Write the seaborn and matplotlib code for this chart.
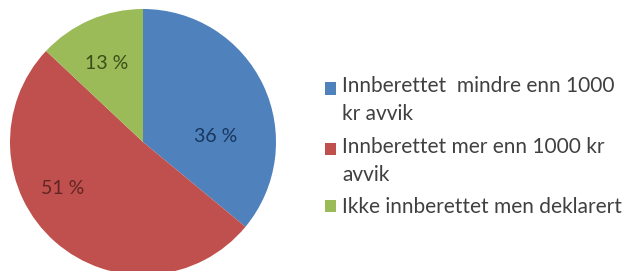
import matplotlib
matplotlib.use("Agg")
import matplotlib.pyplot as plt
import numpy as np
import seaborn as sns
from matplotlib.patches import Rectangle
from matplotlib.legend_handler import HandlerPatch

# data
labels = ["Innberettet  mindre enn 1000\nkr avvik",
          "Innberettet mer enn 1000 kr\navvik",
          "Ikke innberettet men deklarert"]
shares = [36, 51, 13]
colors = ["#4F81BD", "#C0504D", "#9BBB59"]
text_colors = ["#17375E", "#632523", "#3B4E1A"]
# where the percent labels sit (angle in degrees, fraction of radius)
label_angle = [4, 210, 115]
label_dist = [0.55, 0.70, 0.65]

sns.set_theme(style="white")
plt.rcParams['font.family'] = ['Lato', 'DejaVu Sans']

fig = plt.figure(figsize=(6.38, 2.71), dpi=100)
ax = fig.add_axes([10/638, -4/271, 266/638, 266/271])

wedges, texts, autotexts = ax.pie(shares, colors=colors, startangle=90, counterclock=False,
                                  autopct=lambda p: f"{p:.0f} %",
                                  wedgeprops=dict(linewidth=0))
for t, c, a, d in zip(autotexts, text_colors, label_angle, label_dist):
    t.set_color(c)
    t.set_fontsize(14)
    t.set_position((d * np.cos(np.radians(a)), d * np.sin(np.radians(a))))
ax.set_xlim(-1, 1)
ax.set_ylim(-1, 1)
ax.set_aspect("equal")


# squares sit next to the first line of a wrapped label
def square_up(legend, orig_handle, xdescent, ydescent, width, height, fontsize):
    return Rectangle((-xdescent, -ydescent + 0.6 * fontsize), width, height)


hmap = {w: HandlerPatch(patch_func=square_up) for w, l in zip(wedges, labels) if "\n" in l}

leg = fig.legend(wedges, labels, loc="center left", bbox_to_anchor=(306/638, 0.458),
                 frameon=False, fontsize=15, handlelength=0.55, handleheight=0.55,
                 handletextpad=0.3, labelspacing=0.6, labelcolor="#404040",
                 handler_map=hmap)
for t in leg.get_texts():
    t.set_linespacing(1.5)

fig.savefig("out.png", dpi=100)
